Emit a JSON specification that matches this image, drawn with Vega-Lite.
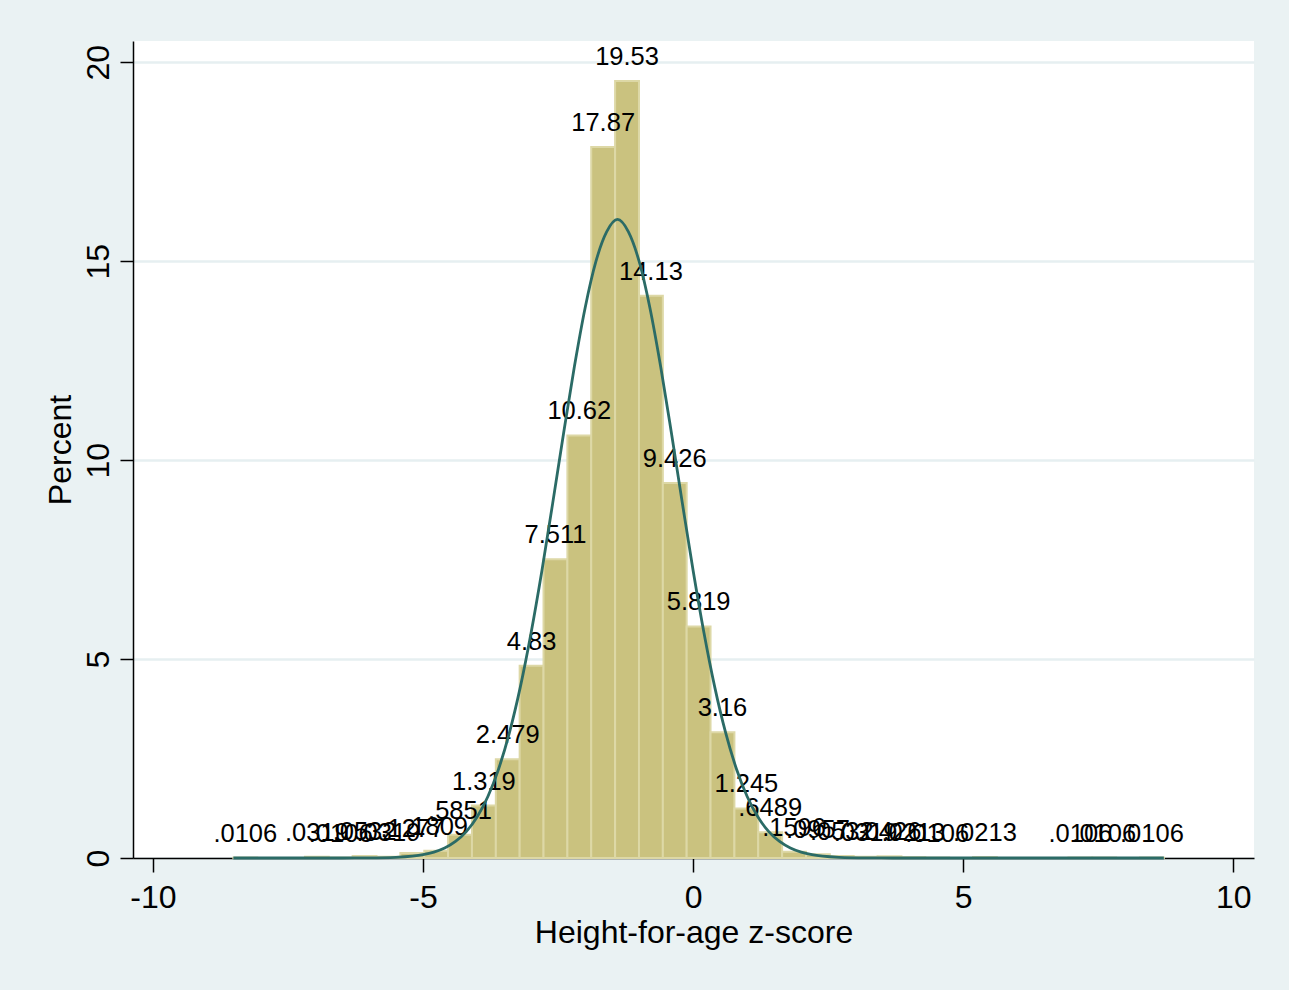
{
  "$schema": "https://vega.github.io/schema/vega-lite/v6.json",
  "autosize": "none",
  "width": 1121,
  "height": 817,
  "padding": {"left": 133, "top": 41, "right": 35, "bottom": 132},
  "background": "#EAF2F3",
  "config": {
    "view": {"stroke": null, "fill": "white"},
    "font": "Liberation Sans",
    "axis": {
      "labelFont": "Liberation Sans",
      "titleFont": "Liberation Sans",
      "labelColor": "black",
      "titleColor": "black",
      "titleFontWeight": "normal",
      "domainColor": "black",
      "tickColor": "black",
      "domainWidth": 1.5,
      "tickWidth": 1.5,
      "labelFontSize": 32,
      "titleFontSize": 32
    }
  },
  "datasets": {
    "bins": [
      {"lo": -8.512, "hi": -8.070, "mid": -8.291, "pct": 0.0106, "label": ".0106"},
      {"lo": -7.187, "hi": -6.745, "mid": -6.966, "pct": 0.0319, "label": ".0319"},
      {"lo": -6.745, "hi": -6.304, "mid": -6.525, "pct": 0.0106, "label": ".0106"},
      {"lo": -6.304, "hi": -5.862, "mid": -6.083, "pct": 0.0532, "label": ".0532"},
      {"lo": -5.862, "hi": -5.420, "mid": -5.641, "pct": 0.0319, "label": ".0319"},
      {"lo": -5.420, "hi": -4.978, "mid": -5.199, "pct": 0.1277, "label": ".1277"},
      {"lo": -4.978, "hi": -4.537, "mid": -4.758, "pct": 0.1809, "label": ".1809"},
      {"lo": -4.537, "hi": -4.095, "mid": -4.316, "pct": 0.5851, "label": ".5851"},
      {"lo": -4.095, "hi": -3.653, "mid": -3.874, "pct": 1.319, "label": "1.319"},
      {"lo": -3.653, "hi": -3.212, "mid": -3.433, "pct": 2.479, "label": "2.479"},
      {"lo": -3.212, "hi": -2.770, "mid": -2.991, "pct": 4.83, "label": "4.83"},
      {"lo": -2.770, "hi": -2.328, "mid": -2.549, "pct": 7.511, "label": "7.511"},
      {"lo": -2.328, "hi": -1.887, "mid": -2.108, "pct": 10.62, "label": "10.62"},
      {"lo": -1.887, "hi": -1.445, "mid": -1.666, "pct": 17.87, "label": "17.87"},
      {"lo": -1.445, "hi": -1.003, "mid": -1.224, "pct": 19.53, "label": "19.53"},
      {"lo": -1.003, "hi": -0.561, "mid": -0.782, "pct": 14.13, "label": "14.13"},
      {"lo": -0.561, "hi": -0.120, "mid": -0.341, "pct": 9.426, "label": "9.426"},
      {"lo": -0.120, "hi": 0.322, "mid": 0.101, "pct": 5.819, "label": "5.819"},
      {"lo": 0.322, "hi": 0.764, "mid": 0.543, "pct": 3.16, "label": "3.16"},
      {"lo": 0.764, "hi": 1.205, "mid": 0.985, "pct": 1.245, "label": "1.245"},
      {"lo": 1.205, "hi": 1.647, "mid": 1.426, "pct": 0.6489, "label": ".6489"},
      {"lo": 1.647, "hi": 2.089, "mid": 1.868, "pct": 0.1596, "label": ".1596"},
      {"lo": 2.089, "hi": 2.531, "mid": 2.310, "pct": 0.0957, "label": ".0957"},
      {"lo": 2.531, "hi": 2.972, "mid": 2.752, "pct": 0.0532, "label": ".0532"},
      {"lo": 2.972, "hi": 3.414, "mid": 3.193, "pct": 0.0319, "label": ".0319"},
      {"lo": 3.414, "hi": 3.856, "mid": 3.635, "pct": 0.0426, "label": ".0426"},
      {"lo": 3.856, "hi": 4.297, "mid": 4.077, "pct": 0.0213, "label": ".0213"},
      {"lo": 4.297, "hi": 4.739, "mid": 4.518, "pct": 0.0106, "label": ".0106"},
      {"lo": 5.181, "hi": 5.622, "mid": 5.402, "pct": 0.0213, "label": ".0213"},
      {"lo": 6.948, "hi": 7.389, "mid": 7.168, "pct": 0.0106, "label": ".0106"},
      {"lo": 7.389, "hi": 7.831, "mid": 7.610, "pct": 0.0106, "label": ".0106"},
      {"lo": 8.273, "hi": 8.714, "mid": 8.493, "pct": 0.0106, "label": ".0106"}
    ],
    "curve": [
      {"z": -8.512, "d": 0},
      {"z": -7.0, "d": 0.00005},
      {"z": -6.5, "d": 0.0004},
      {"z": -6.0, "d": 0.003},
      {"z": -5.5, "d": 0.0175},
      {"z": -5.2, "d": 0.0456},
      {"z": -5.0, "d": 0.083},
      {"z": -4.8, "d": 0.147},
      {"z": -4.6, "d": 0.251},
      {"z": -4.4, "d": 0.415},
      {"z": -4.2, "d": 0.664},
      {"z": -4.0, "d": 1.030},
      {"z": -3.8, "d": 1.546},
      {"z": -3.6, "d": 2.245},
      {"z": -3.4, "d": 3.157},
      {"z": -3.2, "d": 4.296},
      {"z": -3.0, "d": 5.663},
      {"z": -2.8, "d": 7.222},
      {"z": -2.6, "d": 8.920},
      {"z": -2.4, "d": 10.662},
      {"z": -2.2, "d": 12.341},
      {"z": -2.0, "d": 13.826},
      {"z": -1.8, "d": 14.994},
      {"z": -1.6, "d": 15.742},
      {"z": -1.4, "d": 16.05},
      {"z": -1.2, "d": 15.742},
      {"z": -1.0, "d": 14.994},
      {"z": -0.8, "d": 13.826},
      {"z": -0.6, "d": 12.341},
      {"z": -0.4, "d": 10.662},
      {"z": -0.2, "d": 8.920},
      {"z": 0.0, "d": 7.222},
      {"z": 0.2, "d": 5.663},
      {"z": 0.4, "d": 4.296},
      {"z": 0.6, "d": 3.157},
      {"z": 0.8, "d": 2.245},
      {"z": 1.0, "d": 1.546},
      {"z": 1.2, "d": 1.030},
      {"z": 1.4, "d": 0.664},
      {"z": 1.6, "d": 0.415},
      {"z": 1.8, "d": 0.251},
      {"z": 2.0, "d": 0.147},
      {"z": 2.2, "d": 0.083},
      {"z": 2.4, "d": 0.0456},
      {"z": 2.7, "d": 0.0175},
      {"z": 3.2, "d": 0.003},
      {"z": 3.7, "d": 0.0004},
      {"z": 4.2, "d": 0.00005},
      {"z": 8.714, "d": 0}
    ]
  },
  "layer": [
    {
      "data": {"name": "bins"},
      "mark": {"type": "rect", "fill": "#CAC27F", "stroke": "#DDD8A6", "strokeWidth": 2},
      "encoding": {
        "x": {
          "field": "lo", "type": "quantitative",
          "scale": {"domain": [-10.37, 10.383], "nice": false, "zero": false},
          "axis": {
            "values": [-10, -5, 0, 5, 10],
            "labelExpr": "'' + datum.value",
            "grid": false,
            "tickSize": 14,
            "labelPadding": 10,
            "title": "Height-for-age z-score",
            "titleX": 560.5,
            "titleY": 84,
            "titleBaseline": "alphabetic",
            "titleAlign": "center"
          }
        },
        "x2": {"field": "hi"},
        "y": {
          "field": "pct", "type": "quantitative",
          "scale": {"domain": [0, 20.535], "nice": false},
          "axis": {
            "values": [0, 5, 10, 15, 20],
            "labelAngle": -90,
            "labelAlign": "center",
            "labelBaseline": "alphabetic",
            "labelPadding": 12,
            "tickSize": 13,
            "grid": true,
            "gridColor": "#E6EFF1",
            "gridWidth": 2.5,
            "title": "Percent",
            "titleAngle": -90,
            "titleX": -63,
            "titleY": 408.5,
            "titleBaseline": "alphabetic",
            "titleAlign": "center"
          }
        },
        "y2": {"datum": 0}
      }
    },
    {
      "data": {"name": "bins"},
      "mark": {"type": "text", "fontSize": 25.5, "font": "Liberation Sans", "color": "black", "baseline": "alphabetic", "align": "center", "dy": -16},
      "encoding": {
        "x": {"field": "mid", "type": "quantitative"},
        "y": {"field": "pct", "type": "quantitative"},
        "text": {"field": "label"}
      }
    },
    {
      "data": {"name": "curve"},
      "mark": {"type": "line", "color": "#2B6B66", "strokeWidth": 2.8, "interpolate": "monotone"},
      "encoding": {
        "x": {"field": "z", "type": "quantitative"},
        "y": {"field": "d", "type": "quantitative"}
      }
    }
  ]
}
